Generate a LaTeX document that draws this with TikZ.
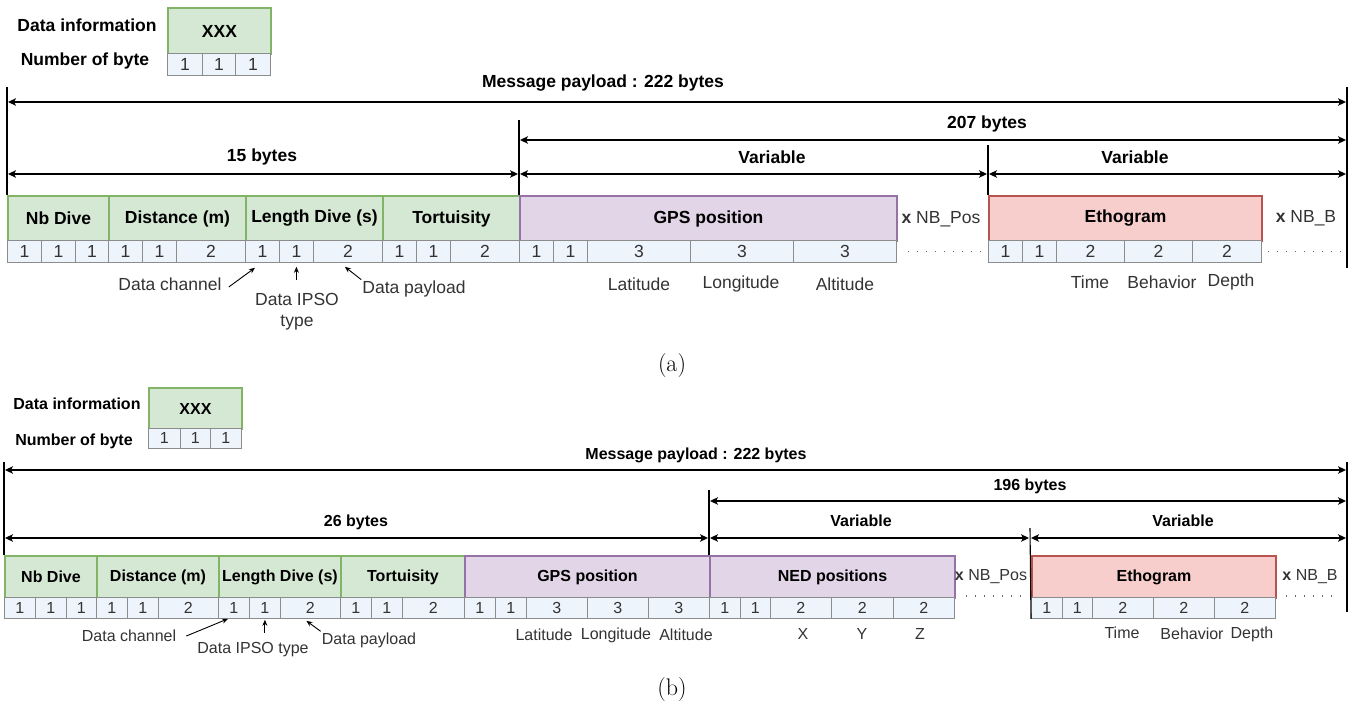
\documentclass[tikz,border=0pt]{standalone}
\usepackage{fontspec}
\setsansfont{Liberation Sans}
\usepackage{xcolor}
\usepackage{tikz}
\usetikzlibrary{arrows.meta,positioning,calc}

\definecolor{measureFill}{HTML}{D5E8D4}
\definecolor{measureDraw}{HTML}{82B366}
\definecolor{posFill}{HTML}{E1D5E7}
\definecolor{posDraw}{HTML}{9673A6}
\definecolor{ethoFill}{HTML}{F8CECC}
\definecolor{ethoDraw}{HTML}{B85450}
\definecolor{byteFill}{HTML}{EEF4FC}
\definecolor{byteDraw}{HTML}{8C8C8C}

\newcommand\partsize{\fontsize{17.5}{21}\selectfont}

\begin{document}
\begin{tikzpicture}[
  x=1pt,
  y=-1pt,
  >={Stealth[length=8pt,width=7.5pt,inset=2pt]},
  field/.style={draw, line width=2pt, anchor=north west, inner sep=0pt,
    font=\sffamily\bfseries\partsize},
  measure/.style={field, draw=measureDraw, fill=measureFill},
  gps/.style={field, draw=posDraw, fill=posFill},
  etho/.style={field, draw=ethoDraw, fill=ethoFill},
  byte/.style={draw=byteDraw, fill=byteFill, line width=0.8pt, text=black!80,
    anchor=north west, inner sep=0pt, font=\sffamily\partsize},
  dim/.style={<->, line width=1.1pt, shorten <=1pt, shorten >=1pt},
  bound/.style={line width=1.1pt},
  heading/.style={font=\sffamily\bfseries\partsize},
  note/.style={font=\sffamily\partsize, text=black!80, inner sep=1pt},
  pointer/.style={-{Stealth[length=6pt,width=5pt]}, line width=0.9pt},
  more/.style={line width=1.6pt, dash pattern=on 1.6pt off 7.4pt, draw=black!60},
  caption/.style={font=\fontsize{24}{28}\selectfont}
]
\useasboundingbox (0,0) rectangle (1350,706);

% Part (a): legend
\node[heading] (infoA) at (87,25) {Data information};
\node[heading] (countA) at (85,61) {Number of byte};
\node[measure, minimum width=103, minimum height=46] (xxxA) at (167,7) {XXX};
\foreach \x/\w in {167/35, 202/33, 235/35}
  \node[byte, minimum width=\w, minimum height=22] (lA\x) at (\x,53) {1};

% Part (a): fields of the message
\node[measure, minimum width=101, minimum height=45] (nbA) at (7,195) {Nb Dive};
\node[measure, minimum width=137, minimum height=45] (distA) at (108,195) {Distance (m)};
\node[measure, minimum width=137, minimum height=45] (lenA) at (245,195) {Length Dive (s)};
\node[measure, minimum width=137, minimum height=45] (tortA) at (382,195) {Tortuisity};
\node[gps, minimum width=377, minimum height=45] (gpsA) at (519,195) {GPS position};
\node[etho, minimum width=273, minimum height=45] (ethoA) at (988,195) {Ethogram};
\foreach \x/\w/\n in {7/34/1, 41/34/1, 75/33/1, 108/34/1, 142/34/1, 176/69/2,
    245/34/1, 279/34/1, 313/69/2, 382/34/1, 416/34/1, 450/69/2,
    519/34/1, 553/34/1, 587/103/3, 690/103/3, 793/103/3,
    988/34/1, 1022/34/1, 1056/68/2, 1124/68/2, 1192/69/2}
  \node[byte, minimum width=\w, minimum height=22] (cA\x) at (\x,240) {\n};

% Part (a): sizes
\coordinate (leftA) at (7,87);
\coordinate (rightA) at (1347,87);
\coordinate (gpsTopA) at (519,120);
\coordinate (ethoTopA) at (988,145);
\draw[bound] (leftA) -- (nbA.north west);
\draw[bound] (rightA) -- ++(0,181);
\draw[bound] (gpsTopA) -- (gpsA.north west);
\draw[bound] (ethoTopA) -- (ethoA.north west);
\draw[dim] (leftA |- 0,102) -- (rightA |- 0,102);
\draw[dim] (gpsTopA |- 0,140) -- (rightA |- 0,140);
\draw[dim] (leftA |- 0,174) -- (gpsTopA |- 0,174);
\draw[dim] (gpsTopA |- 0,174) -- (ethoTopA |- 0,174);
\draw[dim] (ethoTopA |- 0,174) -- (rightA |- 0,174);
\node[heading] (payA) at (603,83) {Message payload : 222 bytes};
\node[heading] (restA) at (987,124) {207 bytes};
\node[heading] (fixA) at (262,157) {15 bytes};
\node[heading] (varGpsA) at (772,157) {Variable};
\node[heading] (varEthoA) at (1135,157) {Variable};

% Part (a): repeats and byte names
\node[note] (nbposA) at (941,219) {\textbf{x} NB\_Pos};
\node[note] (nbbA) at (1306,218) {\textbf{x} NB\_B};
\draw[more] ([xshift=11pt]cA793.east) -- ([xshift=-5pt]cA988.west);
\draw[more] ([xshift=6pt]cA1192.east) -- ++(76,0);
\node[note] (latA) at (639,284) {Latitude};
\node[note] (lonA) at (741,284) {Longitude};
\node[note] (altA) at (845,284) {Altitude};
\node[note] (timeA) at (1090,282) {Time};
\node[note] (behA) at (1162,282) {Behavior};
\node[note] (depthA) at (1231,282) {Depth};
\node[note] (chanA) at (170,284) {Data channel};
\node[note, align=center] (ipsoA) at (297,312) {Data IPSO\\type};
\node[note] (loadA) at (414,289) {Data payload};
\draw[pointer] ([xshift=6pt,yshift=-3pt]chanA.east) -- ([xshift=10pt,yshift=-5pt]cA245.south west);
\draw[pointer] ([yshift=-17pt]cA279.south) -- ([yshift=-4pt]cA279.south);
\draw[pointer] (loadA.north west) -- ([xshift=-3pt,yshift=-4pt]cA313.south);
\node[caption] (capA) at (672,366) {(a)};

\begin{scope}
\renewcommand\partsize{\fontsize{16}{19}\selectfont}
% Part (b): legend
\node[heading] (infoB) at (77,404) {Data information};
\node[heading] (countB) at (74,441) {Number of byte};
\node[measure, minimum width=93, minimum height=41] (xxxB) at (148,387) {XXX};
\foreach \x/\w in {148/32, 180/30, 210/31}
  \node[byte, minimum width=\w, minimum height=20] (lB\x) at (\x,428) {1};

% Part (b): fields of the message
\node[measure, minimum width=92, minimum height=42] (nbB) at (4,555) {Nb Dive};
\node[measure, minimum width=122, minimum height=42] (distB) at (96,555) {Distance (m)};
\node[measure, minimum width=122, minimum height=42] (lenB) at (218,555) {Length Dive (s)};
\node[measure, minimum width=124, minimum height=42] (tortB) at (340,555) {Tortuisity};
\node[gps, minimum width=245, minimum height=42] (gpsB) at (464,555) {GPS position};
\node[gps, minimum width=245, minimum height=42] (nedB) at (709,555) {NED positions};
\node[etho, minimum width=244, minimum height=42] (ethoB) at (1031,555) {Ethogram};
\foreach \x/\w/\n in {4/31/1, 35/31/1, 66/30/1, 96/31/1, 127/31/1, 158/60/2,
    218/31/1, 249/31/1, 280/60/2, 340/31/1, 371/31/1, 402/62/2,
    464/31/1, 495/31/1, 526/61/3, 587/61/3, 648/61/3,
    709/31/1, 740/30/1, 770/61/2, 831/62/2, 893/61/2,
    1031/31/1, 1062/30/1, 1092/61/2, 1153/61/2, 1214/61/2}
  \node[byte, minimum width=\w, minimum height=21] (cB\x) at (\x,597) {\n};

% Part (b): sizes
\coordinate (leftB) at (4,462);
\coordinate (rightB) at (1347,462);
\coordinate (nedTopB) at (709,490);
\coordinate (ethoTopB) at (1030,528);
\draw[bound] (leftB) -- (nbB.north west);
\draw[bound] (rightB) -- ++(0,150);
\draw[bound] (nedTopB) -- (nedB.north west);
\draw[bound] (ethoTopB) -- (cB1031.south west);
\draw[dim] (leftB |- 0,470) -- (rightB |- 0,470);
\draw[dim] (nedTopB |- 0,501) -- (rightB |- 0,501);
\draw[dim] (leftB |- 0,538) -- (nedTopB |- 0,538);
\draw[dim] (nedTopB |- 0,538) -- (ethoTopB |- 0,538);
\draw[dim] (ethoTopB |- 0,538) -- (rightB |- 0,538);
\node[heading] (payB) at (696,455) {Message payload : 222 bytes};
\node[heading] (restB) at (1030,486) {196 bytes};
\node[heading] (fixB) at (356,522) {26 bytes};
\node[heading] (varNedB) at (861,521) {Variable};
\node[heading] (varEthoB) at (1183,521) {Variable};

% Part (b): repeats and byte names
\node[note] (nbposB) at (991,577) {\textbf{x} NB\_Pos};
\node[note] (nbbB) at (1310,577) {\textbf{x} NB\_B};
\draw[more] ([xshift=11pt,yshift=12pt]cB893.east) -- ++(58,0);
\draw[more] ([xshift=10pt,yshift=12pt]cB1214.east) -- ++(52,0);
\node[note] (latB) at (544,635) {Latitude};
\node[note] (lonB) at (616,635) {Longitude};
\node[note] (altB) at (686,635) {Altitude};
\node[note] (xB) at (803,634) {X};
\node[note] (yB) at (862,634) {Y};
\node[note] (zB) at (920,634) {Z};
\node[note] (timeB) at (1122,633) {Time};
\node[note] (behB) at (1192,634) {Behavior};
\node[note] (depthB) at (1252,634) {Depth};
\node[note] (chanB) at (129,636) {Data channel};
\node[note] (ipsoB) at (253,650) {Data IPSO type};
\node[note] (loadB) at (369,640) {Data payload};
\draw[pointer] ([xshift=9pt]chanB.east) -- ([xshift=10pt]cB218.south west);
\draw[pointer] ([yshift=-14pt]cB249.south) -- ([yshift=-1pt]cB249.south);
\draw[pointer] (loadB.north west) -- ([xshift=-4pt,yshift=-2pt]cB280.south);
\node[caption] (capB) at (672,690) {(b)};
\end{scope}

\end{tikzpicture}
\end{document}
